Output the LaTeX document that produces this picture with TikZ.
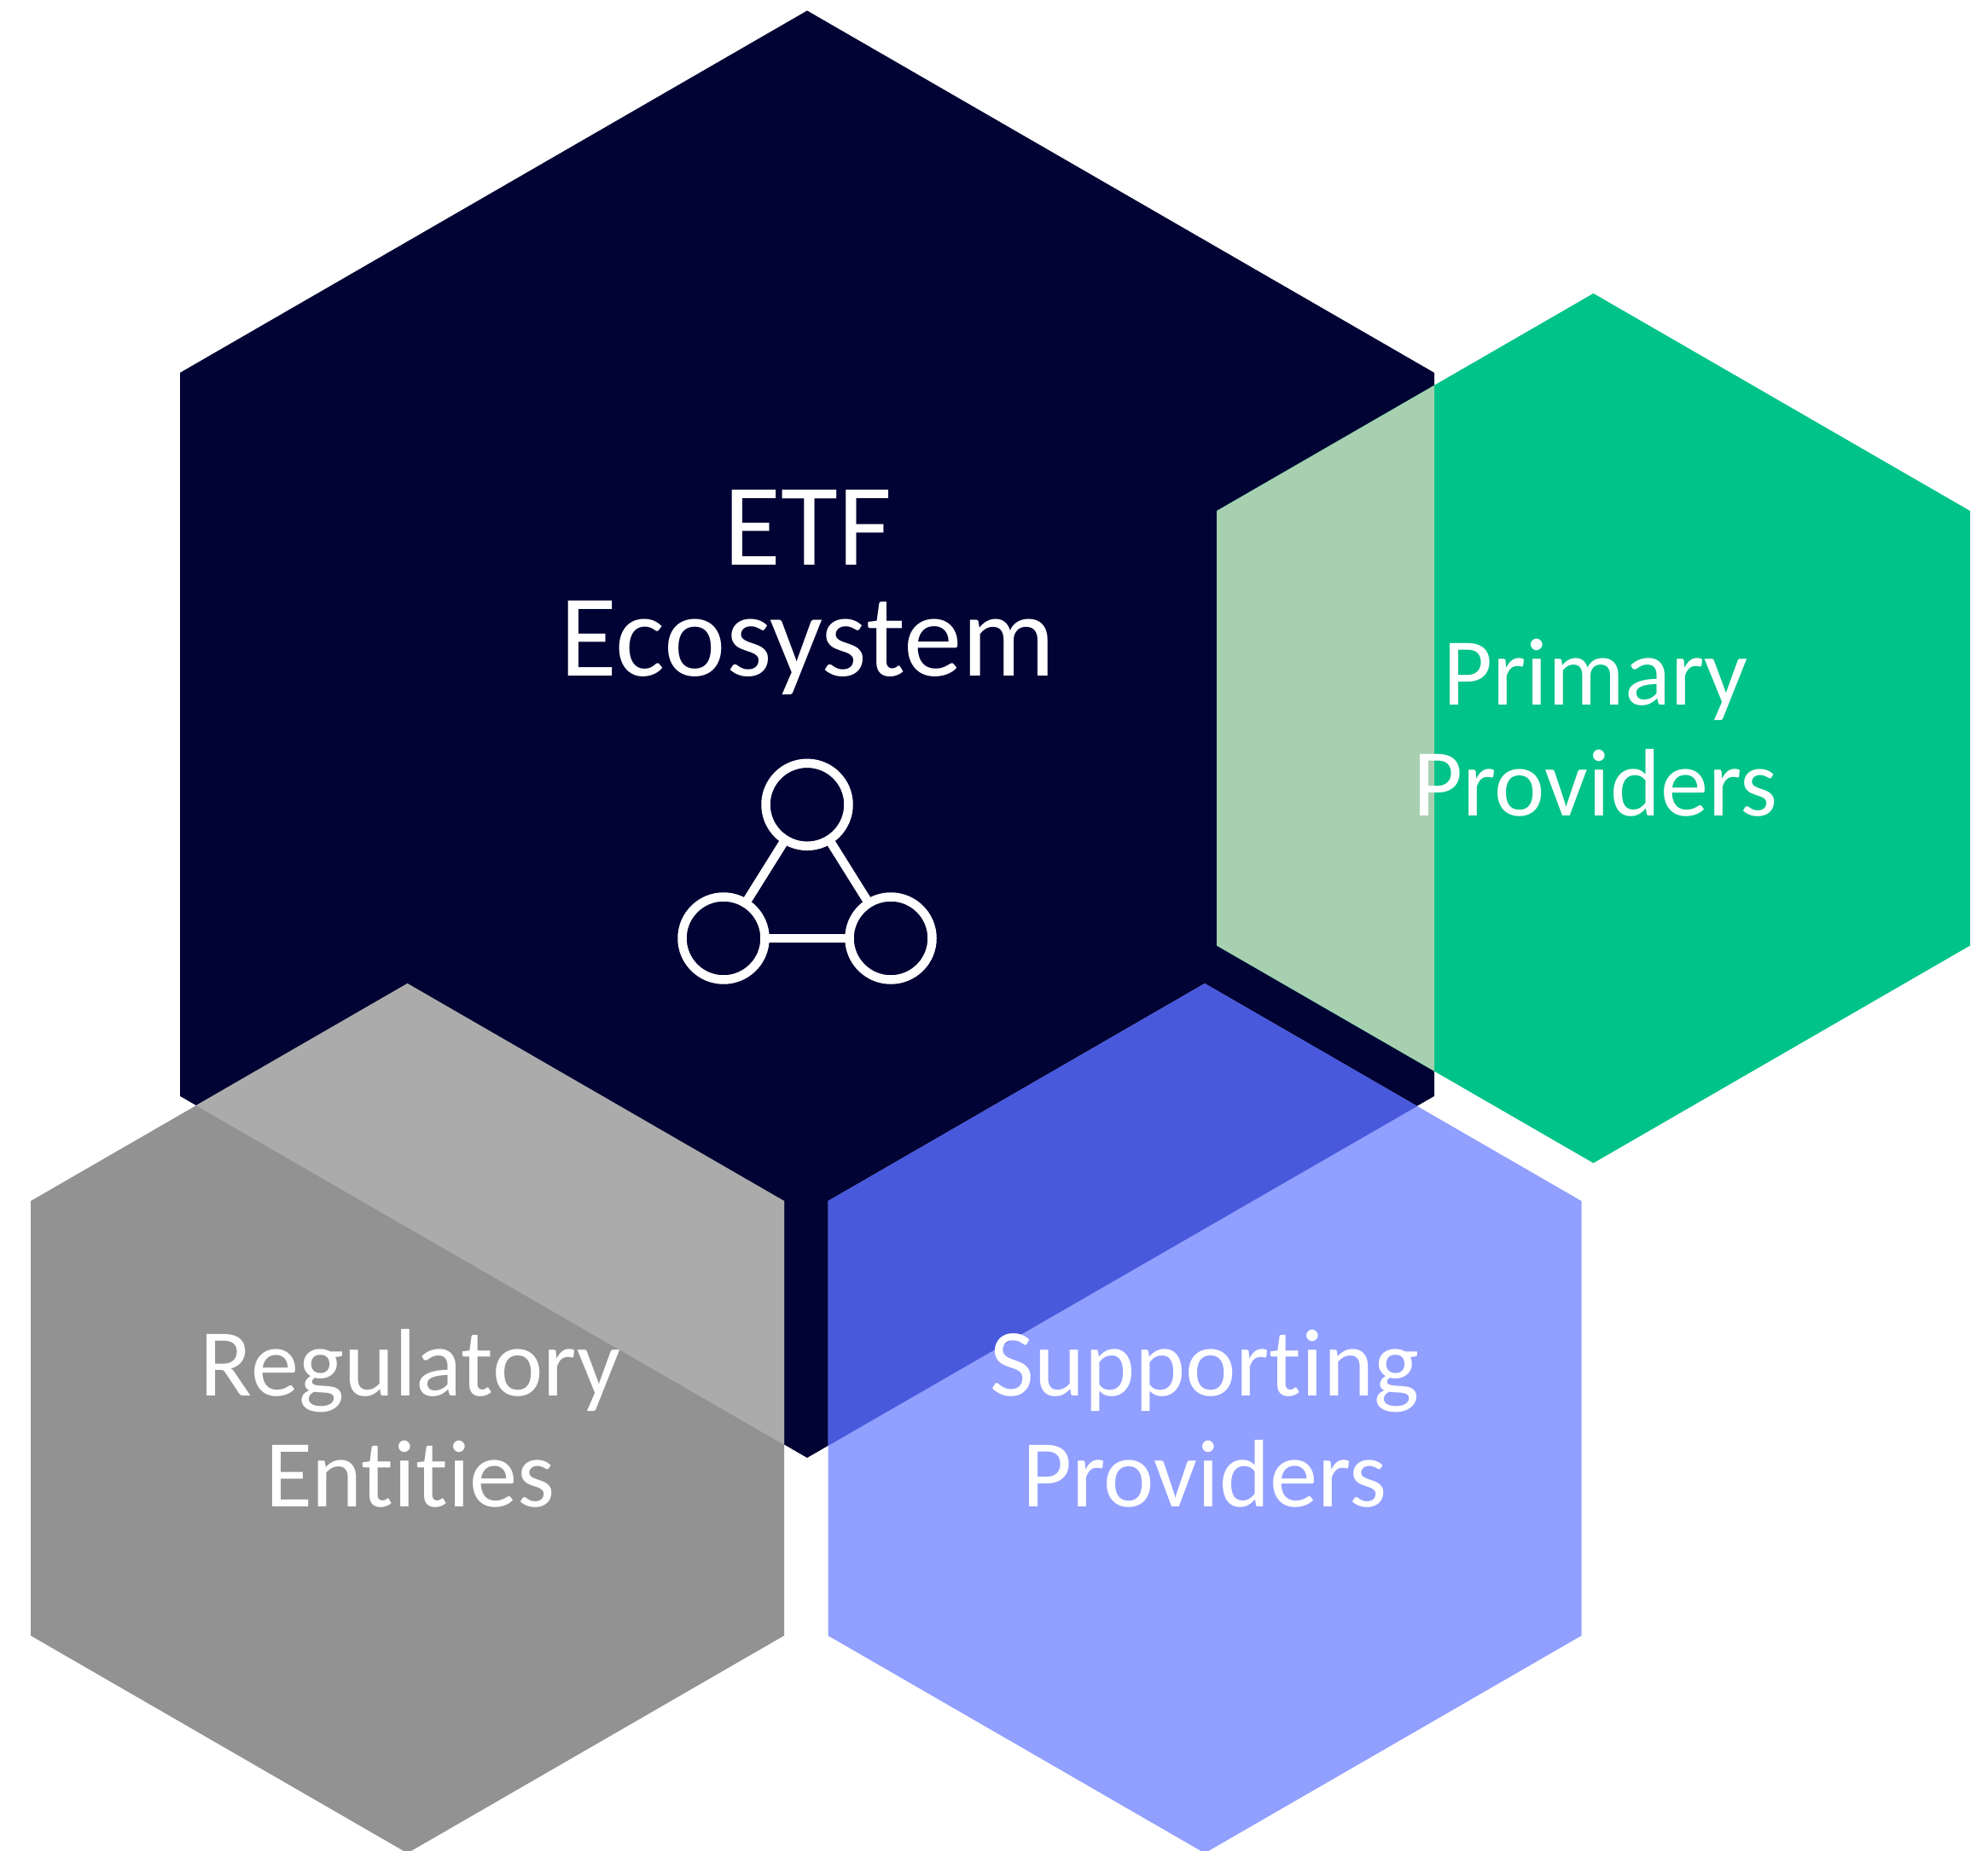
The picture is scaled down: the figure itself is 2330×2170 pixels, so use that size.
\documentclass[tikz,border=0pt]{standalone}
\usepackage{fontspec}
\setmainfont[Ligatures=NoCommon]{Carlito}
\usetikzlibrary{positioning}
\definecolor{navyhex}{HTML}{000333}
\definecolor{greenhex}{HTML}{00C389}
\definecolor{greenover}{HTML}{A6D0B0}
\definecolor{bluehex}{HTML}{919FFF}
\definecolor{blueover}{HTML}{4859DB}
\definecolor{grayhex}{HTML}{929292}
\definecolor{grayover}{HTML}{ABABAB}
\tikzset{
bigtext/.style={text=white, align=center, font=\fontsize{39}{37}\selectfont}, % title in the large hexagon
hextext/.style={text=white, align=center, font=\fontsize{32}{37}\selectfont}, % labels in the small hexagons
ring/.style={circle, draw=white, line width=1.05mm, minimum size=9.7mm, inner sep=0pt, outer sep=0pt}, % circles of the icon
link/.style={draw=white, line width=1.05mm}, % lines of the icon
}

\begin{document}
\begin{tikzpicture}[x=0.1mm, y=-0.1mm]
\useasboundingbox (0,0) rectangle (2330,2170);
% large hexagon
\fill[navyhex] (946,12.5) -- (1681,437) -- (1681,1285) -- (946,1709) -- (211,1285) -- (211,437) -- cycle;
% small hexagons
\fill[greenhex] (1867.5,344) -- (2309,599) -- (2309,1108.5) -- (1867.5,1363.5) -- (1426,1108.5) -- (1426,599) -- cycle;
\fill[grayhex] (477.5,1153) -- (919,1408) -- (919,1917.5) -- (477.5,2172.5) -- (36,1917.5) -- (36,1408) -- cycle;
\fill[bluehex] (1412,1153) -- (1853.5,1408) -- (1853.5,1917.5) -- (1412,2172.5) -- (970.5,1917.5) -- (970.5,1408) -- cycle;
% overlaps
\fill[greenover] (1426,599) -- (1681,451.8) -- (1681,1255.7) -- (1426,1108.5) -- cycle;
\fill[grayover] (229.7,1296) -- (477.5,1153) -- (919,1408) -- (919,1693.8) -- cycle;
\fill[blueover] (970.5,1408) -- (1412,1153) -- (1661,1296.8) -- (970.5,1694.9) -- cycle;
% labels
\node[bigtext] (title) at (947,695) {ETF\\Ecosystem};
\node[hextext] (primary) at (1870,853) {Primary\\Providers};
\node[hextext] (regulatory) at (481,1663) {Regulatory\\Entities};
\node[hextext] (supporting) at (1412,1663) {Supporting\\Providers};
% icon
\node[ring] (top) at (946,943.3) {};
\node[ring] (left) at (848,1100) {};
\node[ring] (right) at (1044,1100) {};
\draw[link] (top) -- (left);
\draw[link] (top) -- (right);
\draw[link] (left) -- (right);
\end{tikzpicture}
\end{document}
